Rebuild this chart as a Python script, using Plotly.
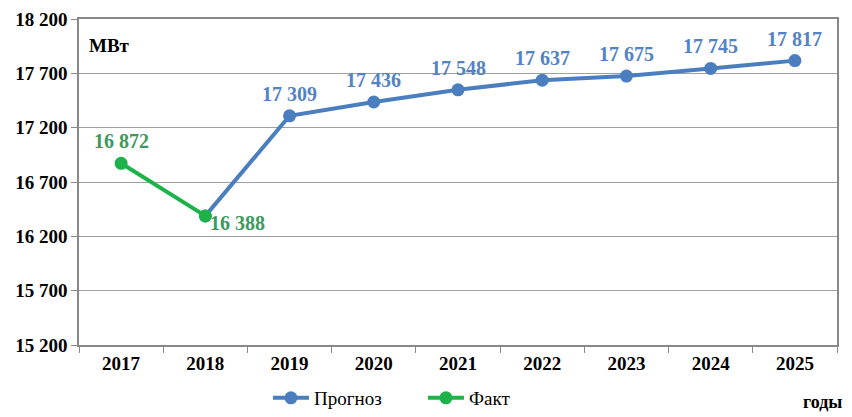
import plotly.graph_objects as go

years = ["2017", "2018", "2019", "2020", "2021", "2022", "2023", "2024", "2025"]
forecast_years = ["2018", "2019", "2020", "2021", "2022", "2023", "2024", "2025"]
forecast_vals = [16388, 17309, 17436, 17548, 17637, 17675, 17745, 17817]
fact_years = ["2017", "2018"]
fact_vals = [16872, 16388]
y_ticks = [15200, 15700, 16200, 16700, 17200, 17700, 18200]

def fmt(v):
    return f"{v:,}".replace(",", " ")

FONT = "'Liberation Serif', 'Times New Roman', 'DejaVu Serif', serif"
BLUE = "#4A7EBF"
BLUE_TXT = "#5283C4"
GREEN = "#1DB34A"
GREEN_TXT = "#3D9A5E"

fig = go.Figure()
fig.add_trace(go.Scatter(
    x=forecast_years, y=forecast_vals, name="Прогноз", mode="lines+markers",
    line=dict(color=BLUE, width=4), marker=dict(size=13, color=BLUE),
    cliponaxis=False,
))
fig.add_trace(go.Scatter(
    x=fact_years, y=fact_vals, name="Факт", mode="lines+markers",
    line=dict(color=GREEN, width=4), marker=dict(size=13, color=GREEN),
    cliponaxis=False,
))

annotations = []
for yr, v in zip(forecast_years[1:], forecast_vals[1:]):
    annotations.append(dict(
        text="<b>" + fmt(v) + "</b>", x=years.index(yr), y=v, xref="x", yref="y",
        xanchor="center", yanchor="bottom", yshift=9, showarrow=False,
        font=dict(family=FONT, size=20, color=BLUE_TXT)))
annotations.append(dict(
    text="<b>" + fmt(fact_vals[0]) + "</b>", x=years.index(fact_years[0]), y=fact_vals[0],
    xref="x", yref="y", xanchor="center", yanchor="bottom", yshift=9, showarrow=False,
    font=dict(family=FONT, size=20, color=GREEN_TXT)))
annotations.append(dict(
    text="<b>" + fmt(fact_vals[1]) + "</b>", x=years.index(fact_years[1]), y=fact_vals[1],
    xref="x", yref="y", xanchor="left", yanchor="middle", xshift=3, yshift=-7,
    showarrow=False, font=dict(family=FONT, size=20, color=GREEN_TXT)))
annotations.append(dict(
    text="<b>МВт</b>", x=0.011, y=0.92, xref="paper", yref="paper",
    xanchor="left", yanchor="middle", showarrow=False, font=dict(family=FONT, size=19)))
annotations.append(dict(
    text="<b>годы</b>", x=1.009, y=-0.175, xref="paper", yref="paper",
    xanchor="right", yanchor="middle", showarrow=False, font=dict(family=FONT, size=18)))

# page body has an 8px margin; figure sized so it ends at the window edge
fig.update_layout(
    width=844, height=409,
    margin=dict(l=71, r=15, t=11, b=72),
    paper_bgcolor="white", plot_bgcolor="white",
    font=dict(family=FONT, color="black"),
    showlegend=True,
    legend=dict(orientation="h", x=0.308, y=0.0, xref="container", yref="container",
                xanchor="left", yanchor="bottom",
                font=dict(family=FONT, size=19), itemwidth=36,
                entrywidth=104, entrywidthmode="pixels",
                bgcolor="rgba(0,0,0,0)"),
    annotations=annotations,
)

fig.update_xaxes(
    type="category", categoryorder="array", categoryarray=years,
    range=[-0.5, 8.5], tickson="boundaries", automargin=False,
    ticks="outside", ticklen=6, tickcolor="#888888",
    showline=True, linecolor="#888888", linewidth=1.5, mirror=True,
    showgrid=False,
    tickfont=dict(family=FONT, size=19, color="black", weight="bold"),
)
fig.update_yaxes(
    range=[15200, 18200], tickvals=y_ticks, ticktext=[fmt(v) for v in y_ticks],
    automargin=False,
    ticks="outside", ticklen=6, tickcolor="#888888",
    showline=True, linecolor="#888888", linewidth=1.5, mirror=True,
    showgrid=True, gridcolor="#A0A0A0", gridwidth=1.3,
    zeroline=False,
    tickfont=dict(family=FONT, size=19, color="black", weight="bold"),
)

fig.write_html("out.html")
